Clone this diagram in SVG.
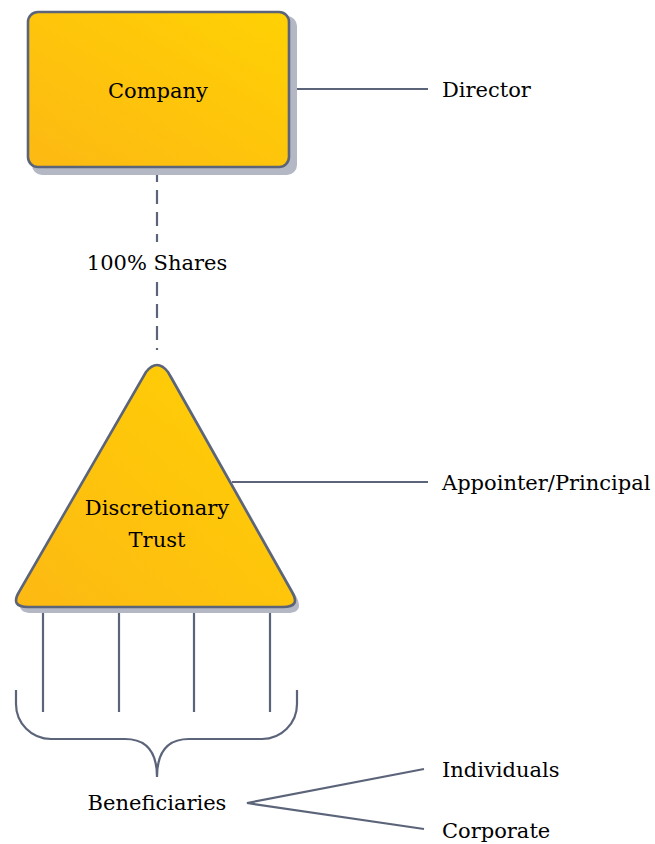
<svg xmlns="http://www.w3.org/2000/svg" width="655" height="844" viewBox="0 0 655 844">
<style>
.lbl{font-family:'DejaVu Serif','Liberation Serif',serif;font-size:21px;fill:#000}
.c{text-anchor:middle}
.ln{stroke:#5b6479;stroke-width:2.2;fill:none}
.shape{stroke:#5b6479;stroke-width:2.6;fill:url(#g)}
.sh{fill:#b4b8c4}
</style>
<defs>
<linearGradient id="g" x1="0" y1="1" x2="1" y2="0">
<stop offset="0" stop-color="#fdb913"/>
<stop offset="1" stop-color="#ffd104"/>
</linearGradient>
</defs>
<g id="connectors">
<line class="ln" x1="289" y1="89" x2="428" y2="89"/>
<line class="ln" x1="157" y1="168" x2="157" y2="242" stroke-dasharray="14,8"/>
<line class="ln" x1="157" y1="282" x2="157" y2="350" stroke-dasharray="14,8"/>
<line class="ln" x1="232" y1="482" x2="428" y2="482"/>
<line class="ln" x1="43" y1="607" x2="43" y2="712"/>
<line class="ln" x1="119" y1="607" x2="119" y2="712"/>
<line class="ln" x1="194" y1="607" x2="194" y2="712"/>
<line class="ln" x1="270" y1="607" x2="270" y2="712"/>
<path class="ln" d="M16,690 V704 A35,35 0 0 0 51,739 H125 C147,739 157,752 157,777 C157,752 167,739 189,739 H262 A35,35 0 0 0 297,704 V690"/>
<polyline class="ln" points="424,769 247,803 424,829"/>
</g>
<g id="company">
<rect class="sh" x="32" y="16" width="265" height="159" rx="10"/>
<rect class="shape" x="28" y="12" width="261" height="155" rx="10"/>
<text class="lbl c" x="158" y="98">Company</text>
</g>
<g id="director"><text class="lbl" x="442" y="97">Director</text></g>
<g id="shares"><text class="lbl c" x="157" y="270">100% Shares</text></g>
<g id="trust">
<path class="sh" d="M150,376 Q161,362 172,376 L296,596 Q305,613 287,613 L32,613 Q14,613 23,596 Z"/>
<path class="shape" d="M146,372 Q157,358 168,372 L292,592 Q301,607 283,607 L28,607 Q10,607 19,592 Z"/>
<text class="lbl c" x="157" y="515">Discretionary</text>
<text class="lbl c" x="157" y="547">Trust</text>
</g>
<g id="appointer"><text class="lbl" x="442" y="490">Appointer/Principal</text></g>
<g id="beneficiaries"><text class="lbl c" x="157" y="810">Beneficiaries</text></g>
<g id="individuals"><text class="lbl" x="442" y="777">Individuals</text></g>
<g id="corporate"><text class="lbl" x="442" y="838">Corporate</text></g>
</svg>
